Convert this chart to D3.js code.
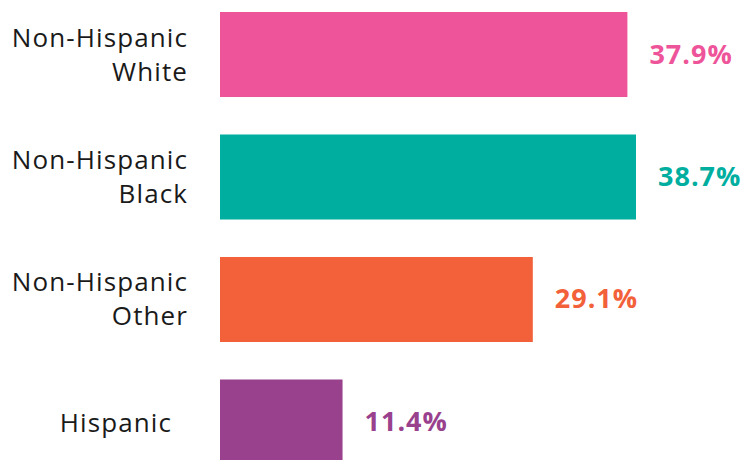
<!DOCTYPE html>
<html>
<head>
<meta charset="utf-8">
<script src="https://cdn.jsdelivr.net/npm/d3@7"></script>
<style>
	body { margin: 0; background: #fff; }
	svg { display: block; }
	.cat { font-family: 'Open Sans', sans-serif; font-size: 26px; letter-spacing: 1.1px; fill: #1a1a1a; }
	.val { font-family: 'Open Sans', sans-serif; font-size: 27px; font-weight: 700; letter-spacing: 1px; }
</style>
</head>
<body>
<div id="chart"></div>
<script>
// data
const categories = ['Non-Hispanic White', 'Non-Hispanic Black', 'Non-Hispanic Other', 'Hispanic'];
const labelLines = [['Non-Hispanic', 'White'], ['Non-Hispanic', 'Black'], ['Non-Hispanic', 'Other'], ['Hispanic']];
const values = [37.9, 38.7, 29.1, 11.4];
const colors = ['#ee5499', '#00ae9f', '#f26139', '#99418c'];

const width = 744;
const height = 460;
const margin = {left: 220, top: 12};

const rows = categories.map((c, i) => ({cat: c, lines: labelLines[i], value: values[i], color: colors[i]}));

const xScale = d3.scaleLinear().domain([0, 38.7]).range([margin.left, 636]);
const yScale = d3.scaleBand()
	.domain(categories)
	.range([margin.top, 464.5])
	.paddingInner(0.306)
	.paddingOuter(0);

const svg = d3.select('#chart').append('svg')
	.attr('width', width)
	.attr('height', height);

// bars
svg.selectAll('.bar')
	.data(rows)
	.enter()
	.append('rect')
		.attr('class', 'bar')
		.attr('x', xScale(0))
		.attr('y', d => yScale(d.cat))
		.attr('width', d => xScale(d.value) - xScale(0))
		.attr('height', yScale.bandwidth())
		.attr('fill', d => d.color);

// value labels
svg.selectAll('.val')
	.data(rows)
	.enter()
	.append('text')
		.attr('class', 'val')
		.attr('x', d => xScale(d.value) + 22)
		.attr('y', d => yScale(d.cat) + yScale.bandwidth() / 2 + 9)
		.attr('fill', d => d.color)
		.text(d => d.value.toFixed(1) + '%');

// category labels
const cats = svg.selectAll('.cat')
	.data(rows)
	.enter()
	.append('text')
		.attr('class', 'cat')
		.attr('text-anchor', 'end')
		.attr('x', d => d.lines.length > 1 ? 188 : 172)
		.attr('y', d => {
			const mid = yScale(d.cat) + yScale.bandwidth() / 2;
			return d.lines.length > 1 ? mid - 8 : mid + 10;
		});

cats.selectAll('tspan')
	.data(d => d.lines.map((l, i) => ({l, i, x: d.lines.length > 1 ? 188 : 172})))
	.enter()
	.append('tspan')
		.attr('x', t => t.x)
		.attr('dy', t => t.i === 0 ? 0 : 34)
		.text(t => t.l);
</script>
</body>
</html>
